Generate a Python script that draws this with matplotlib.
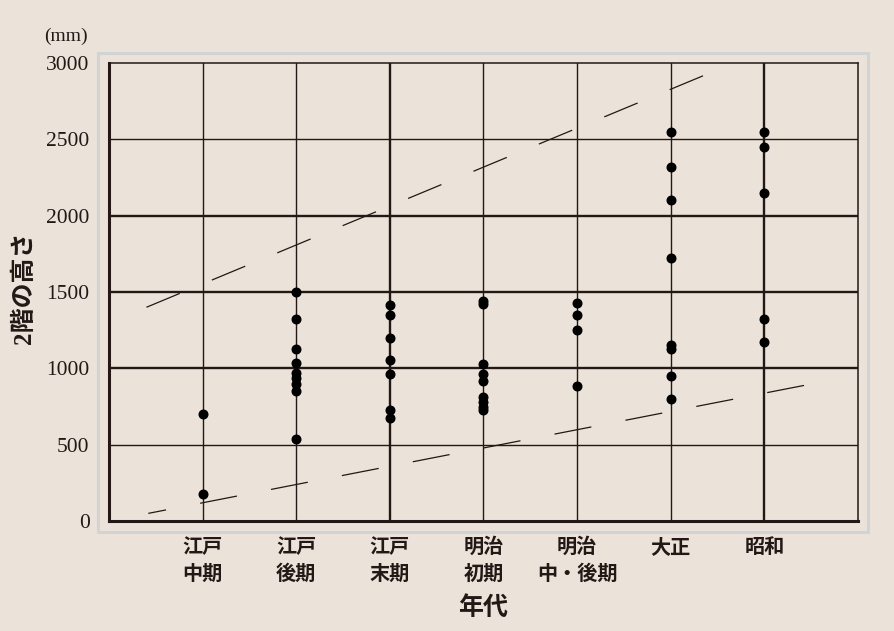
import matplotlib.pyplot as plt
from matplotlib.patches import Rectangle

plt.rcParams['font.family'] = ['Liberation Serif', 'Noto Sans CJK JP']
plt.rcParams['lines.scale_dashes'] = False

# periods (x categories)
periods = ["江戸\n中期", "江戸\n後期", "江戸\n末期", "明治\n初期",
           "明治\n中・後期", "大正", "昭和"]

# 2nd floor height (mm), per period
edo_mid = [700, 180]
edo_late = [1500, 1320, 1125, 1035, 970, 935, 900, 850, 540]
edo_end = [1413, 1351, 1201, 1052, 963, 727, 677]
meiji_early = [1443, 1421, 1028, 965, 915, 814, 781, 749, 727]
meiji_midlate = [1426, 1351, 1251, 882]
taisho = [2550, 2320, 2100, 1725, 1153, 1127, 952, 801]
showa = [2550, 2448, 2151, 1325, 1172]
heights = [edo_mid, edo_late, edo_end, meiji_early, meiji_midlate, taisho, showa]

# dashed band (upper / lower trend)
upper_x = [-0.6, 5.36]
upper_y = [1400, 2920]
lower_x = [-0.58, 6.44]
lower_y = [50, 890]

yticks = [0, 500, 1000, 1500, 2000, 2500, 3000]
thick_y = [1000, 1500, 2000]
thick_x = [2, 6]

bg = '#ebe3d9'
ink = '#231815'

fig = plt.figure(figsize=(8.95, 6.31), dpi=100, facecolor=bg)
ax = fig.add_axes([109/895, 1-521/631, (858-109)/895, (521-63)/631])
ax.set_facecolor(bg)

# light gray frame around the plot area
fig.patches.append(Rectangle((98/895, 1-532/631), (868-98)/895, (532-53)/631,
                             transform=fig.transFigure, fill=False,
                             edgecolor='#d2d3d5', lw=2.2, zorder=0))

ax.set_xlim(-1, 7)
ax.set_ylim(0, 3000)

for i in range(len(periods)):
    ax.axvline(i, color=ink, lw=1.7 if i in thick_x else 1.0, zorder=1)
for v in yticks[1:-1]:
    ax.axhline(v, color=ink, lw=1.7 if v in thick_y else 1.0, zorder=1)

for i, vals in enumerate(heights):
    ax.plot([i]*len(vals), vals, 'o', color='black', ms=6.2, zorder=3)

ax.plot(upper_x, upper_y, color=ink, lw=0.9, linestyle=(0, (26, 25)), zorder=2)
ax.plot(lower_x, lower_y, color=ink, lw=0.9, linestyle=(14, (27, 25)), zorder=2)

for side in ['left', 'bottom']:
    ax.spines[side].set_linewidth(2.2)
for side in ['top', 'right']:
    ax.spines[side].set_linewidth(1.1)
for s in ax.spines.values():
    s.set_color(ink)

ax.set_yticks(yticks)
ax.set_yticklabels([str(v) for v in yticks], fontsize=15.5, color=ink)
ax.set_xticks(range(len(periods)))
ax.set_xticklabels(periods, fontsize=14.5, color=ink, fontweight='bold',
                   linespacing=1.45, va='top')
ax.tick_params(axis='y', length=0, pad=14)
ax.tick_params(axis='x', length=0, pad=12)

fig.text(88/895, 1-36/631, "(mm)", fontsize=14, ha='right', va='center', color=ink)
fig.text(483/895, 1-608/631, "年代", fontsize=18, ha='center', va='center',
         color=ink, fontweight='bold')
fig.text(24/895, 1-288/631, "2階の高さ", fontsize=18, rotation=90,
         ha='center', va='center', color=ink, fontweight='bold')

fig.savefig("out.png", dpi=100, facecolor=bg)
